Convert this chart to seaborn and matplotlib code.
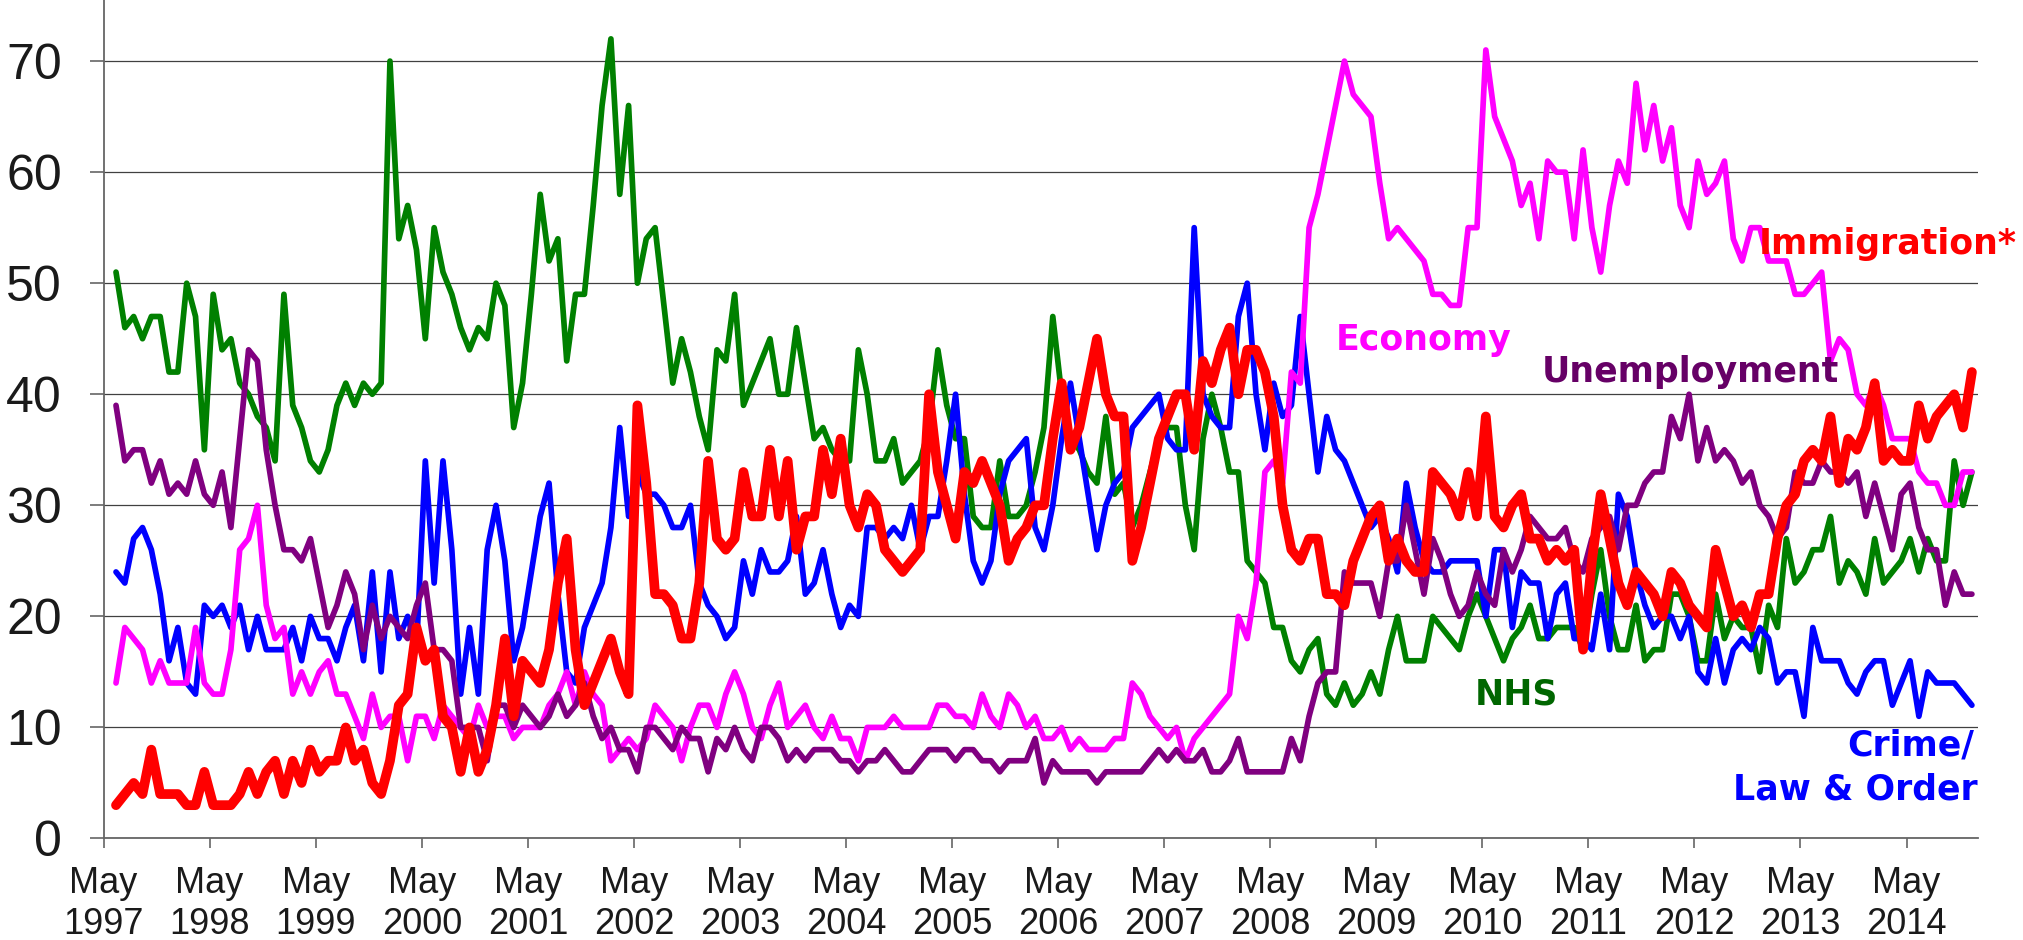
import numpy as np
import pandas as pd
import matplotlib
matplotlib.use('Agg')
import matplotlib.pyplot as plt
import seaborn as sns

# Monthly shares (%), first point ~June 1997
nhs = [51, 46, 47, 45, 47, 47, 42, 42, 50, 47,
       35, 49, 44, 45, 41, 40, 38, 37, 34, 49,
       39, 37, 34, 33, 35, 39, 41, 39, 41, 40,
       41, 70, 54, 57, 53, 45, 55, 51, 49, 46,
       44, 46, 45, 50, 48, 37, 41, 49, 58, 52,
       54, 43, 49, 49, 57, 66, 72, 58, 66, 50,
       54, 55, 48, 41, 45, 42, 38, 35, 44, 43,
       49, 39, 41, 43, 45, 40, 40, 46, 41, 36,
       37, 35, 34, 34, 44, 40, 34, 34, 36, 32,
       33, 34, 37, 44, 39, 36, 36, 29, 28, 28,
       34, 29, 29, 30, 33, 37, 47, 40, 36, 35,
       33, 32, 38, 31, 32, 28, 30, 33, 36, 37,
       37, 30, 26, 36, 40, 37, 33, 33, 25, 24,
       23, 19, 19, 16, 15, 17, 18, 13, 12, 14,
       12, 13, 15, 13, 17, 20, 16, 16, 16, 20,
       19, 18, 17, 20, 22, 20, 18, 16, 18, 19,
       21, 18, 18, 19, 19, 19, 17, 22, 26, 20,
       17, 17, 21, 16, 17, 17, 22, 22, 20, 16,
       16, 22, 18, 20, 19, 19, 15, 21, 19, 27,
       23, 24, 26, 26, 29, 23, 25, 24, 22, 27,
       23, 24, 25, 27, 24, 27, 25, 25, 34, 30, 33]

unemployment = [39, 34, 35, 35, 32, 34, 31, 32, 31, 34,
                31, 30, 33, 28, 36, 44, 43, 35, 30, 26,
                26, 25, 27, 23, 19, 21, 24, 22, 17, 21,
                18, 20, 19, 18, 21, 23, 17, 17, 16, 10,
                10, 10, 7, 12, 12, 10, 12, 11, 10, 11,
                13, 11, 12, 14, 11, 9, 10, 8, 8, 6,
                10, 10, 9, 8, 10, 9, 9, 6, 9, 8,
                10, 8, 7, 10, 10, 9, 7, 8, 7, 8,
                8, 8, 7, 7, 6, 7, 7, 8, 7, 6,
                6, 7, 8, 8, 8, 7, 8, 8, 7, 7,
                6, 7, 7, 7, 9, 5, 7, 6, 6, 6,
                6, 5, 6, 6, 6, 6, 6, 7, 8, 7,
                8, 7, 7, 8, 6, 6, 7, 9, 6, 6,
                6, 6, 6, 9, 7, 11, 14, 15, 15, 24,
                23, 23, 23, 20, 25, 25, 30, 26, 22, 27,
                25, 22, 20, 21, 24, 22, 21, 26, 24, 26,
                29, 28, 27, 27, 28, 25, 24, 27, 28, 29,
                26, 30, 30, 32, 33, 33, 38, 36, 40, 34,
                37, 34, 35, 34, 32, 33, 30, 29, 27, 28,
                33, 32, 32, 34, 33, 33, 32, 33, 29, 32,
                29, 26, 31, 32, 28, 26, 26, 21, 24, 22, 22]

crime = [24, 23, 27, 28, 26, 22, 16, 19, 14, 13,
         21, 20, 21, 19, 21, 17, 20, 17, 17, 17,
         19, 16, 20, 18, 18, 16, 19, 21, 16, 24,
         15, 24, 18, 20, 17, 34, 23, 34, 26, 13,
         19, 13, 26, 30, 25, 16, 19, 24, 29, 32,
         22, 15, 14, 19, 21, 23, 28, 37, 29, 33,
         31, 31, 30, 28, 28, 30, 23, 21, 20, 18,
         19, 25, 22, 26, 24, 24, 25, 29, 22, 23,
         26, 22, 19, 21, 20, 28, 28, 27, 28, 27,
         30, 26, 29, 29, 34, 40, 31, 25, 23, 25,
         31, 34, 35, 36, 28, 26, 30, 36, 41, 36,
         31, 26, 30, 32, 33, 37, 38, 39, 40, 36,
         35, 35, 55, 40, 38, 37, 37, 47, 50, 40,
         35, 41, 38, 39, 47, 40, 33, 38, 35, 34,
         32, 30, 28, 29, 27, 24, 32, 28, 25, 24,
         24, 25, 25, 25, 25, 20, 26, 26, 19, 24,
         23, 23, 18, 22, 23, 18, 18, 17, 22, 17,
         31, 29, 24, 21, 19, 20, 20, 18, 20, 15,
         14, 18, 14, 17, 18, 17, 19, 18, 14, 15,
         15, 11, 19, 16, 16, 16, 14, 13, 15, 16,
         16, 12, 14, 16, 11, 15, 14, 14, 14, 13, 12]

economy = [14, 19, 18, 17, 14, 16, 14, 14, 14, 19,
           14, 13, 13, 17, 26, 27, 30, 21, 18, 19,
           13, 15, 13, 15, 16, 13, 13, 11, 9, 13,
           10, 11, 11, 7, 11, 11, 9, 12, 11, 10,
           9, 12, 10, 11, 11, 9, 10, 10, 10, 12,
           13, 15, 12, 15, 13, 12, 7, 8, 9, 8,
           9, 12, 11, 10, 7, 10, 12, 12, 10, 13,
           15, 13, 10, 9, 12, 14, 10, 11, 12, 10,
           9, 11, 9, 9, 7, 10, 10, 10, 11, 10,
           10, 10, 10, 12, 12, 11, 11, 10, 13, 11,
           10, 13, 12, 10, 11, 9, 9, 10, 8, 9,
           8, 8, 8, 9, 9, 14, 13, 11, 10, 9,
           10, 7, 9, 10, 11, 12, 13, 20, 18, 23,
           33, 34, 32, 42, 41, 55, 58, 62, 66, 70,
           67, 66, 65, 59, 54, 55, 54, 53, 52, 49,
           49, 48, 48, 55, 55, 71, 65, 63, 61, 57,
           59, 54, 61, 60, 60, 54, 62, 55, 51, 57,
           61, 59, 68, 62, 66, 61, 64, 57, 55, 61,
           58, 59, 61, 54, 52, 55, 55, 52, 52, 52,
           49, 49, 50, 51, 43, 45, 44, 40, 39, 41,
           39, 36, 36, 36, 33, 32, 32, 30, 30, 33, 33]

immigration = [3, 4, 5, 4, 8, 4, 4, 4, 3, 3,
               6, 3, 3, 3, 4, 6, 4, 6, 7, 4,
               7, 5, 8, 6, 7, 7, 10, 7, 8, 5,
               4, 7, 12, 13, 19, 16, 17, 11, 10, 6,
               10, 6, 8, 12, 18, 11, 16, 15, 14, 17,
               23, 27, 17, 12, 14, 16, 18, 15, 13, 39,
               32, 22, 22, 21, 18, 18, 23, 34, 27, 26,
               27, 33, 29, 29, 35, 29, 34, 26, 29, 29,
               35, 31, 36, 30, 28, 31, 30, 26, 25, 24,
               25, 26, 40, 33, 30, 27, 33, 32, 34, 32,
               30, 25, 27, 28, 30, 30, 36, 41, 35, 37,
               41, 45, 40, 38, 38, 25, 28, 32, 36, 38,
               40, 40, 35, 43, 41, 44, 46, 40, 44, 44,
               42, 38, 30, 26, 25, 27, 27, 22, 22, 21,
               25, 27, 29, 30, 25, 27, 25, 24, 24, 33,
               32, 31, 29, 33, 29, 38, 29, 28, 30, 31,
               27, 27, 25, 26, 25, 26, 17, 25, 31, 27,
               23, 21, 24, 23, 22, 20, 24, 23, 21, 20,
               19, 26, 23, 20, 21, 19, 22, 22, 27, 30,
               31, 34, 35, 34, 38, 32, 36, 35, 37, 41,
               34, 35, 34, 34, 39, 36, 38, 39, 40, 37, 42]

tick_years = list(range(1997, 2015))
tick_labels = [f'May\n{y}' for y in tick_years]

# x = months after May 1997
months = np.arange(len(nhs)) + 1.4

sns.set_style('white')
plt.rcParams['font.family'] = ['Liberation Sans', 'DejaVu Sans']

fig = plt.figure(figsize=(20.24, 9.40), dpi=100)
ax = fig.add_axes([0.0512, 0.108, 0.9259, 0.892])

series = [
    (nhs, '#008000', 4.1, 2),
    (crime, '#0000FF', 4.1, 3),
    (economy, '#FF00FF', 4.1, 4),
    (unemployment, '#800080', 4.1, 5),
    (immigration, '#FF0000', 7.0, 6),
]
for vals, col, lw, z in series:
    df = pd.DataFrame({'month': months, 'pct': vals})
    sns.lineplot(data=df, x='month', y='pct', color=col, linewidth=lw,
                 ax=ax, zorder=z)
for line in ax.lines:
    line.set_solid_joinstyle('round')
    line.set_solid_capstyle('round')

ax.set_xlim(0, 212.05)
ax.set_ylim(0, 75.5)
ax.set_yticks(range(0, 71, 10))
ax.set_xticks([12 * k for k in range(len(tick_years))])
ax.set_xticklabels(tick_labels)
ax.set_xlabel('')
ax.set_ylabel('')

ax.yaxis.grid(True, color='#404040', linewidth=0.9)
ax.xaxis.grid(False)
ax.set_axisbelow(True)
for side in ['top', 'right']:
    ax.spines[side].set_visible(False)
for side in ['left', 'bottom']:
    ax.spines[side].set_color('#666666')
    ax.spines[side].set_linewidth(1.3)

ax.tick_params(axis='y', length=10, width=1.2, color='#666666', pad=20,
               labelsize=36, labelcolor='#1a1a1a', left=True)
ax.tick_params(axis='x', length=7, width=1.2, color='#666666', pad=13,
               labelsize=26, labelcolor='#1a1a1a', bottom=True)

lab = dict(fontfamily='DejaVu Sans', fontweight='bold', fontsize=25,
           va='baseline', zorder=10, clip_on=False)
ax.text(216.5, 52.6, 'Immigration*', color='#FF0000', ha='right', **lab)
ax.text(139.4, 44.0, 'Economy', color='#FF00FF', ha='left', **lab)
ax.text(162.7, 41.1, 'Unemployment', color='#660066', ha='left', **lab)
ax.text(155.2, 12.1, 'NHS', color='#006600', ha='left', **lab)
ax.text(211.7, 7.5, 'Crime/', color='#0000FF', ha='right', **lab)
ax.text(212.0, 3.47, 'Law & Order', color='#0000FF', ha='right', **lab)

fig.savefig('out.png', dpi=100)
